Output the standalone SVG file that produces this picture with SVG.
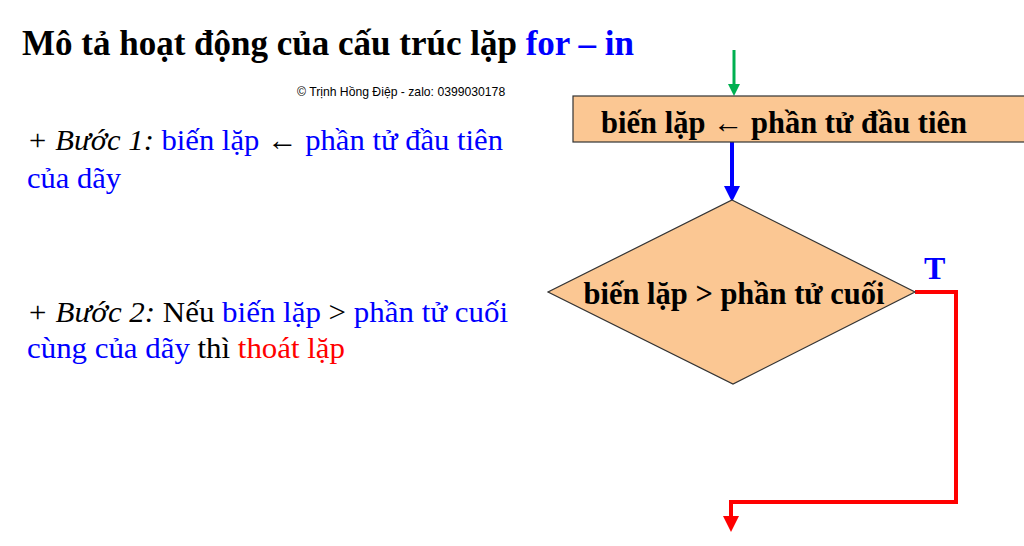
<svg xmlns="http://www.w3.org/2000/svg" width="1024" height="546" viewBox="0 0 1024 546">
<style>
.t{font-family:"Liberation Serif",serif;}
.b{font-weight:bold;}
.blue{fill:#0000ff}.red{fill:#ff0000}
.node{fill:#fbc793;stroke:#333;stroke-width:1.2}
</style>
<defs>
<marker id="ag" markerWidth="4" markerHeight="4" refX="2" refY="2" orient="auto" markerUnits="strokeWidth"><path d="M0,0L4,2L0,4z" fill="#00b050"/></marker>
<marker id="ab" markerWidth="4" markerHeight="4" refX="2" refY="2" orient="auto" markerUnits="strokeWidth"><path d="M0,0L4,2L0,4z" fill="#0000ff"/></marker>
<marker id="ar" markerWidth="4" markerHeight="4" refX="2" refY="2" orient="auto" markerUnits="strokeWidth"><path d="M0,0L4,2L0,4z" fill="#ff0000"/></marker>
</defs>
<rect width="1024" height="546" fill="#fff"/>
<text class="t b" x="22" y="55" font-size="35">Mô tả hoạt động của cấu trúc lặp <tspan class="blue">for – in</tspan></text>
<text x="297" y="96" font-family="Liberation Sans,sans-serif" font-size="12.2">© Trịnh Hồng Điệp - zalo: 0399030178</text>
<text class="t" x="27" y="150" font-size="30" textLength="476" lengthAdjust="spacingAndGlyphs"><tspan font-style="italic">+ Bước 1:</tspan> <tspan class="blue">biến lặp</tspan> ← <tspan class="blue">phần tử đầu tiên</tspan></text>
<text class="t blue" x="27" y="188" font-size="30" textLength="94" lengthAdjust="spacingAndGlyphs">của dãy</text>
<text class="t" x="27" y="322" font-size="30" textLength="481" lengthAdjust="spacingAndGlyphs"><tspan font-style="italic">+ Bước 2:</tspan> Nếu <tspan class="blue">biến lặp</tspan> &gt; <tspan class="blue">phần tử cuối</tspan></text>
<text class="t" x="27" y="358" font-size="30" textLength="318" lengthAdjust="spacingAndGlyphs"><tspan class="blue">cùng của dãy</tspan> thì <tspan class="red">thoát lặp</tspan></text>
<g id="connectors" fill="none">
<path d="M734,50V90" stroke="#00b050" stroke-width="3" marker-end="url(#ag)"/>
<path d="M732,142V194" stroke="#0000ff" stroke-width="4" marker-end="url(#ab)"/>
<path d="M915,292H956V502H731V524" stroke="#ff0000" stroke-width="4" marker-end="url(#ar)"/>
<text class="t b blue" x="924" y="279" font-size="32">T</text>
</g>
<g id="init"><rect class="node" x="573" y="96" width="452" height="46"/>
<text class="t b" x="784" y="133" font-size="30.5" text-anchor="middle">biến lặp ← phần tử đầu tiên</text></g>
<g id="cond"><path class="node" d="M732,200L915,292L733,384L548,292z"/>
<text class="t b" x="734" y="304" font-size="30.5" text-anchor="middle">biến lặp &gt; phần tử cuối</text></g>
</svg>
